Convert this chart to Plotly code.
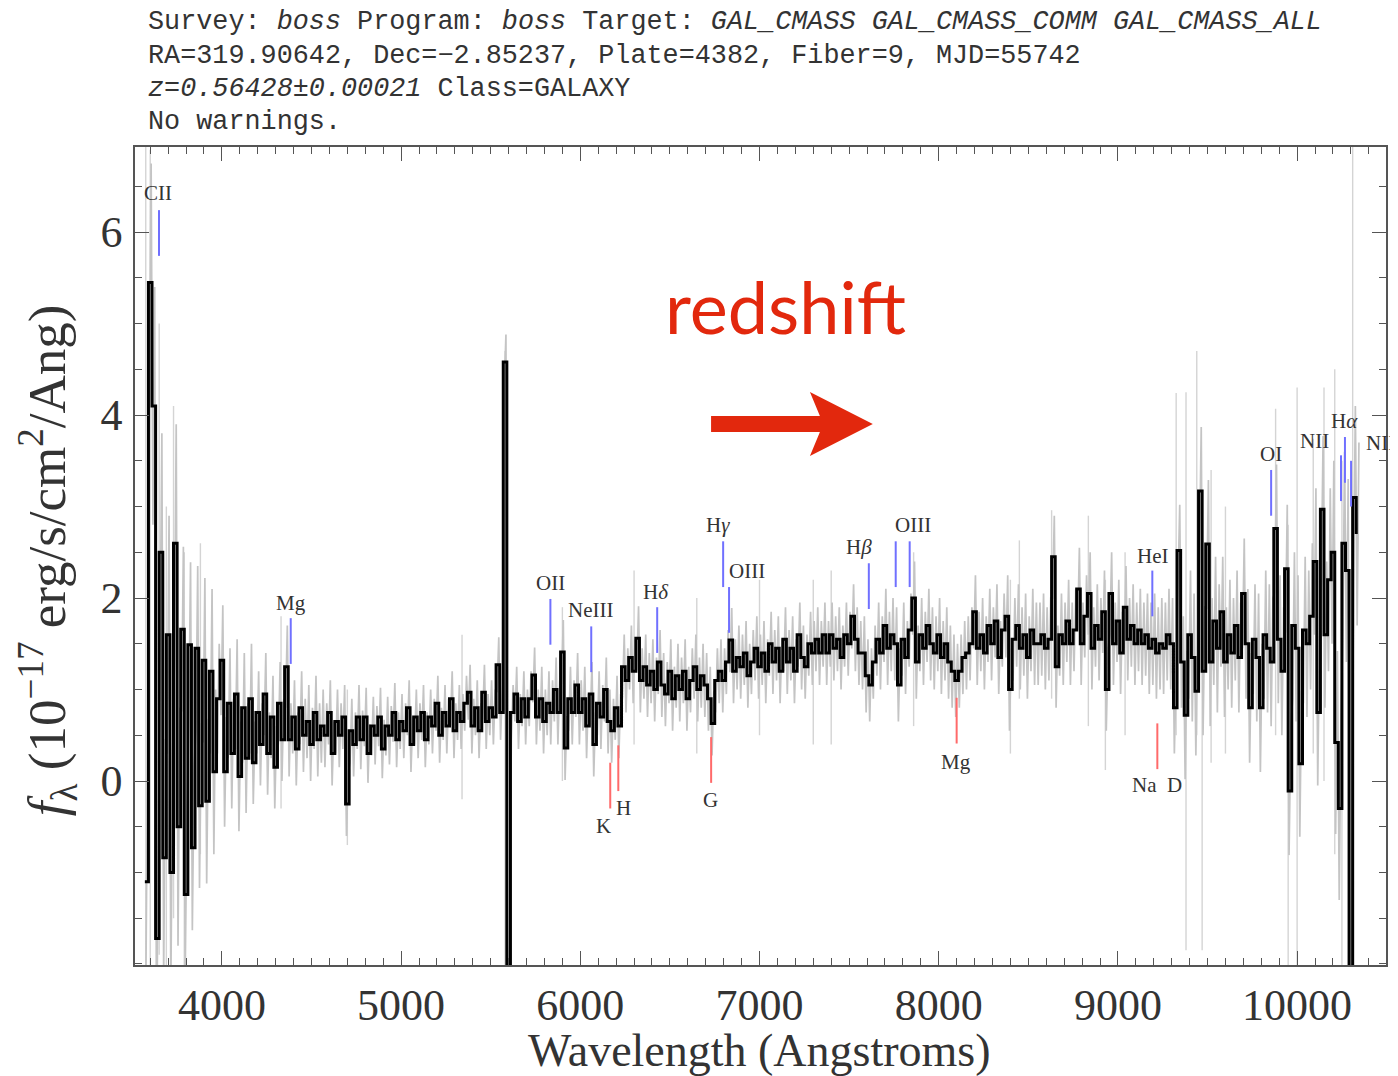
import numpy as np
import plotly.graph_objects as go

# ---------------- data ----------------
wave_start = 3570.0   # Angstrom, first pixel of the smoothed spectrum
wave_step = 20.0      # Angstrom per pixel

flux = [
    -1.1, 5.45, 4.1, -1.72, 2.5, -0.84, 1.6, -1.0, 2.6, -0.5,
    1.66, -1.24, 1.49, -0.73, 1.45, -0.27, 1.32, -0.22, 1.2, 0.1,
    0.9, 1.32, 0.1, 0.85, 0.3, 0.95, 0.05, 0.8, 0.25, 0.9,
    0.2, 0.75, 0.4, 0.95, 0.3, 0.7, 0.15, 0.85, 0.45, 1.25,
    0.45, 0.7, 0.35, 0.8, 0.5, 0.65, 0.4, 0.75, 0.45, 0.6,
    0.5, 0.75, 0.3, 0.65, 0.5, 0.7, -0.25, 0.55, 0.4, 0.7,
    0.45, 0.7, 0.3, 0.6, 0.5, 0.7, 0.35, 0.6, 0.5, 0.75,
    0.45, 0.65, 0.55, 0.8, 0.4, 0.7, 0.55, 0.75, 0.45, 0.7,
    0.6, 0.85, 0.5, 0.75, 0.6, 0.9, 0.55, 0.75, 0.65, 0.85,
    0.97, 0.6, 0.8, 0.55, 0.97, 0.65, 0.8, 0.7, 1.27, 0.75,
    4.58, -2.1, 0.75, 0.95, 0.65, 0.9, 0.7, 0.9, 1.16, 0.7,
    0.9, 0.65, 0.85, 0.75, 1.0, 0.75, 1.41, 0.36, 0.9, 0.75,
    1.05, 0.75, 0.9, 0.6, 0.95, 0.4, 0.85, 0.7, 1.0, 0.65,
    0.55, 0.8, 0.6, 1.25, 1.1, 1.35, 1.2, 1.56, 1.1, 1.25,
    1.05, 1.2, 1.0, 1.3, 1.05, 0.95, 1.2, 0.9, 1.15, 1.0,
    1.2, 0.9, 1.1, 1.25, 1.0, 1.15, 1.05, 0.9, 0.63, 1.1,
    1.2, 1.1, 1.3, 1.54, 1.2, 1.35, 1.25, 1.4, 1.15, 1.3,
    1.45, 1.25, 1.4, 1.2, 1.5, 1.3, 1.45, 1.2, 1.55, 1.3,
    1.45, 1.2, 1.6, 1.35, 1.25, 1.5, 1.4, 1.55, 1.4, 1.6,
    1.4, 1.6, 1.45, 1.55, 1.35, 1.6, 1.5, 1.8, 1.55, 1.4,
    1.4, 1.15, 1.05, 1.3, 1.55, 1.4, 1.7, 1.45, 1.6, 1.5,
    1.05, 1.55, 1.35, 1.65, 2.0, 1.3, 1.6, 1.45, 1.7, 1.5,
    1.4, 1.6, 1.35, 1.5, 1.3, 1.2, 1.1, 1.2, 1.35, 1.4,
    1.5, 1.85, 1.45, 1.6, 1.4, 1.7, 1.5, 1.75, 1.35, 1.65,
    1.8, 1.0, 1.55, 1.7, 1.45, 1.6, 1.35, 1.65, 1.5, 1.5,
    1.6, 1.45, 1.55, 2.45, 1.25, 1.6, 1.5, 1.75, 1.5, 1.65,
    2.1, 1.5, 1.8, 2.05, 1.45, 1.7, 1.55, 1.85, 1.0, 2.05,
    1.5, 1.75, 1.4, 1.9, 1.55, 1.7, 1.5, 1.65, 1.5, 1.6,
    1.45, 1.55, 1.4, 1.5, 1.45, 1.6, 1.5, 0.8, 2.52, 1.3,
    0.72, 1.6, 1.35, 0.98, 3.17, 1.2, 2.59, 1.3, 1.75, 1.45,
    1.85, 1.3, 1.6, 1.4, 1.7, 1.35, 2.05, 1.5, 0.8, 1.55,
    1.35, 0.8, 1.6, 1.45, 1.3, 2.76, 1.55, 1.2, 2.32, -0.11,
    1.7, 1.45, 0.19, 1.65, 1.5, 1.8, 2.4, 0.75, 2.97, 1.6,
    2.2, 2.5, 0.42, -0.3, 2.6, 2.3, -2.1, 3.1, 2.7,
]

# raw-flux scatter (grey) per 200 Angstrom block
gray_block_err = [
    1.3, 0.9, 0.6, 0.45, 0.4, 0.35, 0.32, 0.3, 0.3, 0.3,
    0.3, 0.35, 0.35, 0.35, 0.35, 0.35, 0.35, 0.35, 0.35, 0.35,
    0.4, 0.4, 0.4, 0.4, 0.45, 0.45, 0.45, 0.45, 0.5, 0.7,
    0.6, 0.7, 0.8, 1.0,
]

# isolated grey raw-flux spikes
spike_wave = [3575, 3600, 3650, 3690, 3730, 3790, 3880, 4330, 4700, 5340,
              5580, 5900, 6300, 6650, 7000, 7300, 7400, 7860, 8400, 8450,
              8630, 8835, 8930, 9040, 9325, 9380, 9440, 9470, 9520, 9600,
              9880, 9950, 10000, 10090, 10150, 10210, 10250, 10310]
spike_lo = [-2.1, -2.1, -1.9, -2.1, -1.5, -2.1, -0.8, -0.3, -0.7, -0.2,
            -2.1, 0.0, 0.4, 0.3, 0.5, 0.4, 0.4, 0.6, 0.3, 0.9,
            0.9, 0.6, 0.12, 0.5, 0.5, -1.85, 0.5, -1.85, 0.2, 0.3,
            0.5, -2.1, -2.1, 0.3, 0.0, -0.8, -2.1, -2.1]
spike_hi = [7.0, 6.9, 5.0, 3.0, 4.1, 2.5, 2.6, 1.8, 1.0, 1.6,
            4.7, 1.9, 2.3, 2.0, 2.2, 2.2, 2.3, 2.5, 2.2, 2.63,
            2.96, 2.9, 2.2, 2.5, 4.24, 4.25, 4.7, 2.5, 3.4, 3.0,
            4.07, 2.8, 4.3, 3.74, 4.3, 4.5, 3.5, 7.0]

# emission lines (observed wavelength, top of marker)
em_wave = [3649, 4384, 5833, 6061, 6429, 6797, 6830, 7610, 7760, 7838,
           9192, 9855, 10245, 10267, 10301]
em_top = [6.24, 1.78, 1.99, 1.69, 1.90, 2.62, 2.12, 2.38, 2.62, 2.62,
          2.30, 3.40, 3.56, 3.76, 3.50]
em_labels = ["CII", "Mg", "OII", "NeIII", "H<i>δ</i>", "H<i>γ</i>", "OIII",
             "H<i>β</i>", "OIII", "HeI", "OI", "NII", "H<i>α</i>", "NII"]
em_label_wave = [3643, 4384, 5833, 6056, 6423, 6769, 6930, 7554, 7855,
                 9192, 9855, 10095, 10262, 10468]
em_label_y = [6.43, 1.95, 2.16, 1.87, 2.07, 2.80, 2.30, 2.56, 2.80,
              2.46, 3.57, 3.72, 3.93, 3.70]

# absorption lines
ab_wave = [6167, 6212, 6730, 8100, 9220]
ab_top = [0.20, 0.39, 0.48, 0.91, 0.63]
ab_labels = ["K", "H", "G", "Mg", "Na  D"]
ab_label_wave = [6128, 6240, 6724, 8095, 9220]
ab_label_y = [-0.49, -0.30, -0.21, 0.21, -0.04]

x_ticks = [4000, 5000, 6000, 7000, 8000, 9000, 10000]
x_tick_text = ["4000", "5000", "6000", "7000", "8000", "9000", "10000"]
y_ticks = [0, 2, 4, 6]
y_tick_text = ["0", "2", "4", "6"]

title_lines = [
    "Survey: <i>boss</i> Program: <i>boss</i> Target: <i>GAL_CMASS GAL_CMASS_COMM GAL_CMASS_ALL</i>",
    "RA=319.90642, Dec=−2.85237, Plate=4382, Fiber=9, MJD=55742",
    "<i>z=0.56428±0.00021</i> Class=GALAXY",
    "No warnings.",
]

# ---------------- styling ----------------
PAGE_OFF = 8                      # default body margin of the html page
W_FIG, H_FIG = 1398 - PAGE_OFF, 1076 - PAGE_OFF
REF_L, REF_T, PW, PH = 135, 147, 1253, 818   # plot box in window pixels
L, T = REF_L - PAGE_OFF, REF_T - PAGE_OFF
MARK_LEN = 0.5
SERIF = "Liberation Serif"
MONO = "Liberation Mono"
RED = "#e2280d"


def px(x):
    return (x - REF_L) / PW


def py(y):
    return (REF_T + PH - y) / PH


wave = wave_start + wave_step * np.arange(len(flux))

# grey zig-zag (raw flux scatter)
gx, gy = [], []
for i, f in enumerate(flux):
    e = gray_block_err[min(i // 10, len(gray_block_err) - 1)]
    gx += [wave[i] + wave_step / 4, wave[i] + 3 * wave_step / 4]
    gy += [f - e, f + e]

sx, sy = [], []
for w, lo, hi in zip(spike_wave, spike_lo, spike_hi):
    sx += [w, w, None]
    sy += [lo, hi, None]

fig = go.Figure()
fig.add_trace(go.Scatter(x=sx, y=sy, mode="lines",
                         line=dict(color="#d4d4d4", width=1.4), hoverinfo="skip"))
fig.add_trace(go.Scatter(x=gx, y=gy, mode="lines",
                         line=dict(color="#c4c4c4", width=1.7), hoverinfo="skip"))
fig.add_trace(go.Scatter(x=wave, y=flux, mode="lines",
                         line=dict(color="black", width=3, shape="hv")))

ex, ey = [], []
for w, t in zip(em_wave, em_top):
    ex += [w, w, None]
    ey += [t, t - MARK_LEN, None]
fig.add_trace(go.Scatter(x=ex, y=ey, mode="lines",
                         line=dict(color="#7070ff", width=2)))
ax_, ay_ = [], []
for w, t in zip(ab_wave, ab_top):
    ax_ += [w, w, None]
    ay_ += [t, t - MARK_LEN, None]
fig.add_trace(go.Scatter(x=ax_, y=ay_, mode="lines",
                         line=dict(color="#ff6a6a", width=2)))

annotations = []
for txt, w, yv in zip(em_labels, em_label_wave, em_label_y):
    annotations.append(dict(x=w, y=yv, xref="x", yref="y", text=txt, showarrow=False,
                            font=dict(family=SERIF, size=21, color="#333333"),
                            xanchor="center", yanchor="middle"))
for txt, w, yv in zip(ab_labels, ab_label_wave, ab_label_y):
    annotations.append(dict(x=w, y=yv, xref="x", yref="y", text=txt, showarrow=False,
                            font=dict(family=SERIF, size=21, color="#333333"),
                            xanchor="center", yanchor="middle"))

for line, ycen in zip(title_lines, [22, 56, 89, 122]):
    annotations.append(dict(x=px(146), y=py(ycen), xref="paper", yref="paper",
                            text=line, showarrow=False, xanchor="left", yanchor="middle",
                            font=dict(family=MONO, size=26.8, color="#333333")))

annotations.append(dict(x=px(760), y=py(1050), xref="paper", yref="paper",
                        text="Wavelength (Angstroms)", showarrow=False,
                        xanchor="center", yanchor="middle",
                        font=dict(family=SERIF, size=46, color="#333333")))
annotations.append(dict(x=px(47), y=py(560), xref="paper", yref="paper",
                        text="<i>f</i><sub>λ</sub> (10<sup>−17</sup> erg/s/cm<sup>2</sup>/Ang)",
                        showarrow=False, textangle=-90,
                        xanchor="center", yanchor="middle",
                        font=dict(family=SERIF, size=53, color="#333333")))
annotations.append(dict(x=px(787), y=py(306), xref="paper", yref="paper",
                        text="redshift", showarrow=False,
                        xanchor="center", yanchor="middle",
                        font=dict(family="Lato", size=72, color=RED)))

arrow_pts = [(712, 416), (821, 416), (811, 392), (874, 424), (811, 456),
             (821, 432), (712, 432)]
path = "M " + " L ".join(f"{px(a):.5f},{py(b):.5f}" for a, b in arrow_pts) + " Z"
shapes = [dict(type="path", path=path, xref="paper", yref="paper",
               fillcolor=RED, line=dict(color=RED, width=0))]

axis_common = dict(
    showgrid=False, zeroline=False, showline=True, linecolor="#555555", linewidth=1.5,
    mirror="allticks", ticks="inside", ticklen=14, tickwidth=1.3, tickcolor="#555555",
    tickfont=dict(family=SERIF, size=44, color="#333333"),
)

fig.update_layout(
    width=W_FIG, height=H_FIG,
    margin=dict(l=L, r=W_FIG - L - PW, t=T, b=H_FIG - T - PH),
    paper_bgcolor="white", plot_bgcolor="white",
    showlegend=False,
    xaxis=dict(range=[3515, 10496], tickmode="array", tickvals=x_ticks,
               ticktext=x_tick_text, ticklabelstandoff=0,
               minor=dict(tickmode="linear", tick0=0, dtick=100, ticks="inside",
                          ticklen=7, tickcolor="#555555", tickwidth=1.1),
               **axis_common),
    yaxis=dict(range=[-2.011, 6.93], tickmode="array", tickvals=y_ticks,
               ticktext=y_tick_text, ticklabelstandoff=2,
               minor=dict(tickmode="linear", tick0=0, dtick=0.5, ticks="inside",
                          ticklen=7, tickcolor="#555555", tickwidth=1.1),
               **axis_common),
    annotations=annotations,
    shapes=shapes,
)

fig.write_html("out.html")
